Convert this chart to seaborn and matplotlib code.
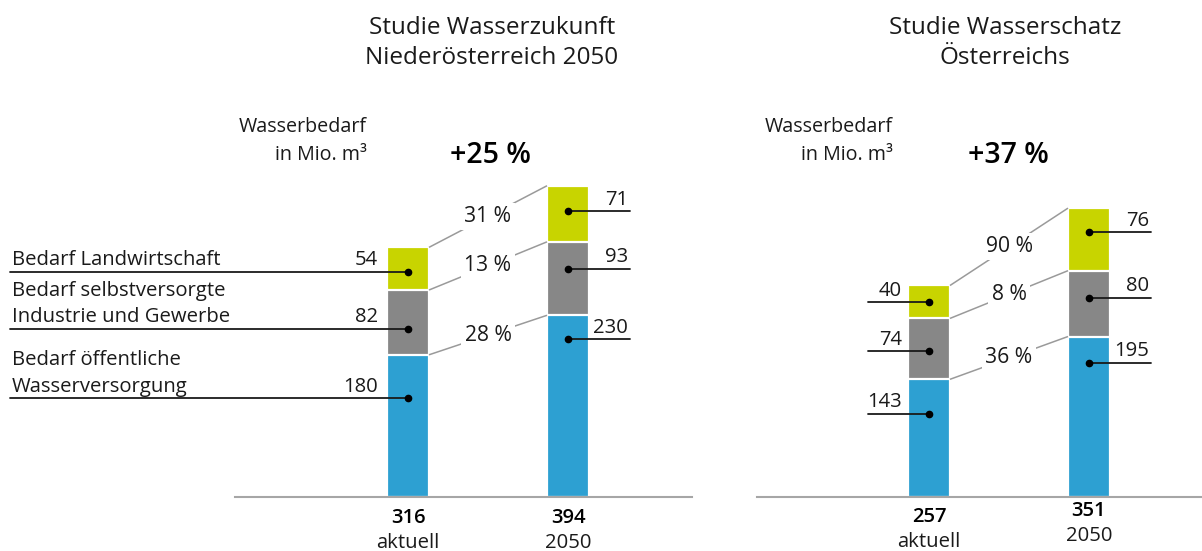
import matplotlib
matplotlib.use("Agg")
import matplotlib.pyplot as plt
import seaborn as sns
import pandas as pd

# data
periods = ["aktuell", "2050"]
segments = ["Bedarf öffentliche\nWasserversorgung",
            "Bedarf selbstversorgte\nIndustrie und Gewerbe",
            "Bedarf Landwirtschaft"]

noe_public = [180, 230]
noe_industry = [82, 93]
noe_agri = [54, 71]
noe_totals = [316, 394]
noe_growth = ["28 %", "13 %", "31 %"]
noe_change = "+25 %"
noe_title = "Studie Wasserzukunft\nNiederösterreich 2050"

at_public = [143, 195]
at_industry = [74, 80]
at_agri = [40, 76]
at_totals = [257, 351]
at_growth = ["36 %", "8 %", "90 %"]
at_change = "+37 %"
at_title = "Studie Wasserschatz\nÖsterreichs"

# colours / layout
GREEN = "#C8D400"
GREY = "#878787"
BLUE = "#2DA0D2"
W, H = 1202, 551
BASE = 497          # baseline pixel row
BAR_W = 0.2625
FS = 14.6
WT = "normal"

sns.set_theme(style="white")
plt.rcParams["font.family"] = ["Open Sans", "DejaVu Sans"]
TXT = "#1a1a1a"

fig = plt.figure(figsize=(W / 100, H / 100), dpi=100)


def panel(left_px, right_px, c0, scale, public, industry, agri, totals, growth,
          change, title, title_x, unit_x, change_x, dot_y1, dot_y2, tot_y, left_style):
    ax = fig.add_axes([left_px / W, (H - BASE) / H, (right_px - left_px) / W, BASE / H])
    df = pd.DataFrame({
        "period": periods,
        "public": public,
        "industry": [p + i for p, i in zip(public, industry)],
        "agri": [p + i + a for p, i, a in zip(public, industry, agri)],
    })
    for col, c in [("agri", GREEN), ("industry", GREY), ("public", BLUE)]:
        sns.barplot(data=df, x="period", y=col, color=c, width=BAR_W,
                    edgecolor="white", linewidth=1.6, saturation=1, ax=ax)
    ax.set_xlim((left_px - c0) / 160, (right_px - c0) / 160)
    ax.set_ylim(0, BASE / scale)
    ax.set_xlabel("")
    ax.set_ylabel("")
    ax.set_xticks([])
    ax.set_yticks([])
    for s in ["left", "right", "top"]:
        ax.spines[s].set_visible(False)
    ax.spines["bottom"].set_color("#a6a6a6")
    ax.spines["bottom"].set_linewidth(1.5)

    def xd(px):
        return (px - c0) / 160

    def yd(py):
        return (BASE - py) / scale

    tops1 = [public[0], public[0] + industry[0], totals[0]]
    tops2 = [public[1], public[1] + industry[1], totals[1]]
    vals1 = [public[0], industry[0], agri[0]]
    vals2 = [public[1], industry[1], agri[1]]

    # connectors with growth labels
    for t1, t2, g in zip(tops1, tops2, growth):
        x1, x2 = BAR_W / 2, 1 - BAR_W / 2
        ax.plot([x1, x2], [t1, t2], color="#9a9a9a", lw=1.1, zorder=3, solid_capstyle="butt")
        ax.text((x1 + x2) / 2, (t1 + t2) / 2, g, ha="center", va="center", fontsize=FS + 0.6,
                color=TXT, fontweight=WT, zorder=4,
                bbox=dict(boxstyle="square,pad=0.15", fc="white", ec="none"))

    # leaders bar 1
    for k, (dy, v) in enumerate(zip(dot_y1, vals1)):
        if left_style:
            x_start = xd(10)
            vx = xd(378)
        else:
            x_start = xd(868)
            vx = xd(902)
        ax.plot([x_start, 0], [dy, dy], color=TXT, lw=1.3, clip_on=False, zorder=5)
        ax.plot([0], [dy], "o", ms=4.5, color="black", zorder=6, clip_on=False)
        ax.annotate(str(v), (vx, dy), xytext=(0, 1.0), textcoords="offset points",
                    ha="right", va="bottom", fontsize=FS, color=TXT, fontweight=WT,
                    annotation_clip=False)
        if left_style:
            ax.annotate(segments[k], (xd(12), dy), xytext=(0, 1.0), textcoords="offset points",
                        ha="left", va="bottom", fontsize=FS, color=TXT, fontweight=WT,
                        linespacing=1.45, annotation_clip=False)

    # leaders bar 2
    for dy, v in zip(dot_y2, vals2):
        ax.plot([1, 1 + (62 / 160)], [dy, dy], color=TXT, lw=1.3, clip_on=False, zorder=5)
        ax.plot([1], [dy], "o", ms=4.5, color="black", zorder=6, clip_on=False)
        ax.annotate(str(v), (1 + 60 / 160, dy), xytext=(0, 1.0), textcoords="offset points",
                    ha="right", va="bottom", fontsize=FS, color=TXT, fontweight=WT,
                    annotation_clip=False)

    # totals and categories under the axis
    for i in range(2):
        ax.text(i, yd(tot_y[i]), str(totals[i]), ha="center", va="center", fontsize=FS,
                color="black", fontweight="semibold", clip_on=False)
        ax.text(i, yd(tot_y[i] + 25), periods[i], ha="center", va="center", fontsize=FS,
                color=TXT, fontweight=WT, clip_on=False)

    # header texts
    fig.text(title_x / W, 1 - 43 / H, title, ha="center", va="center", fontsize=17.5,
             color=TXT, fontweight=WT, linespacing=1.3)
    fig.text(unit_x / W, 1 - 141 / H, "Wasserbedarf\nin Mio. m³", ha="right", va="center",
             fontsize=14.2, color=TXT, fontweight=WT, linespacing=1.5)
    fig.text(change_x / W, 1 - 156 / H, change, ha="center", va="center", fontsize=20.5,
             color="black", fontweight="semibold")
    return ax


# dot heights for the leader lines (data units)
panel(235, 692, 408, 0.79, noe_public, noe_industry, noe_agri, noe_totals, noe_growth,
      noe_change, noe_title, 492, 367, 490,
      dot_y1=[125, 213, 285], dot_y2=[200, 289, 362], tot_y=[518, 518], left_style=True)
panel(757, 1202, 929, 0.823, at_public, at_industry, at_agri, at_totals, at_growth,
      at_change, at_title, 1005, 893, 1008,
      dot_y1=[101, 177, 237], dot_y2=[163, 242, 322], tot_y=[517, 511], left_style=False)

fig.savefig("out.png", dpi=100, facecolor="white")
